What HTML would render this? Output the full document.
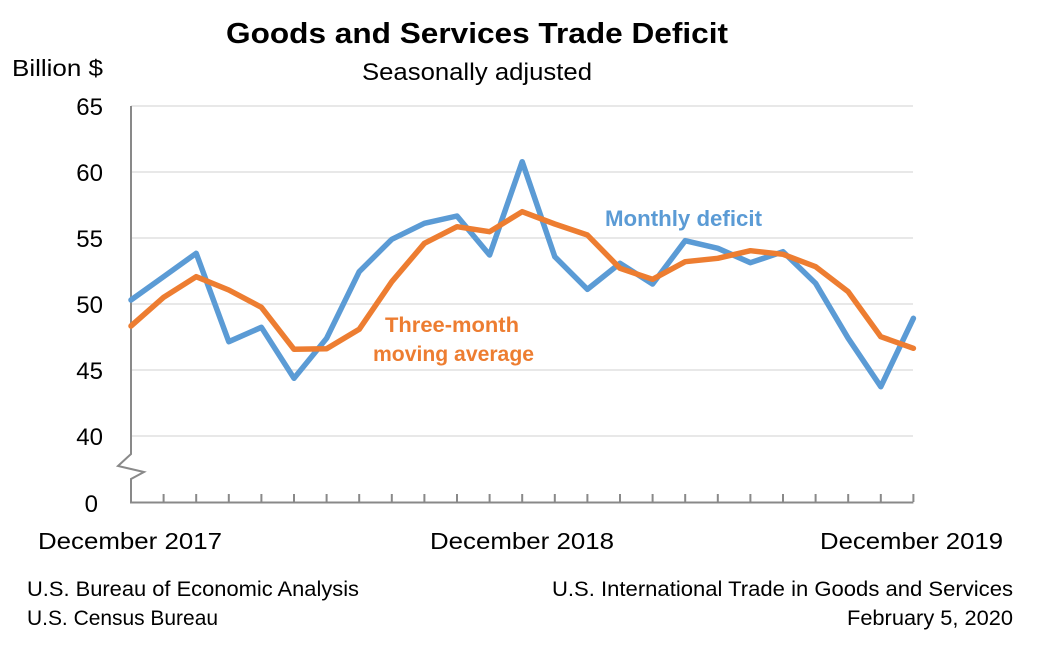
<!DOCTYPE html>
<html>
<head>
<meta charset="utf-8">
<style>
html,body{margin:0;padding:0;background:#fff;}
svg{display:block;}
text{font-family:"Liberation Sans",sans-serif;fill:#000;}
</style>
</head>
<body>
<svg width="1048" height="649" viewBox="0 0 1048 649" xmlns="http://www.w3.org/2000/svg">
<rect width="1048" height="649" fill="#fff"/>
<!-- gridlines -->
<g stroke="#d9d9d9" stroke-width="1.2">
<line x1="131" y1="106" x2="913" y2="106"/>
<line x1="131" y1="172" x2="913" y2="172"/>
<line x1="131" y1="238" x2="913" y2="238"/>
<line x1="131" y1="304" x2="913" y2="304"/>
<line x1="131" y1="370" x2="913" y2="370"/>
<line x1="131" y1="436" x2="913" y2="436"/>
</g>
<!-- axes -->
<polyline points="131,106 131,454 118,466 144,472 131,479 131,502.5 913.4,502.5" fill="none" stroke="#898989" stroke-width="2"/>
<g stroke="#898989" stroke-width="2">
<line x1="163.6" y1="494" x2="163.6" y2="502"/>
<line x1="196.2" y1="494" x2="196.2" y2="502"/>
<line x1="228.8" y1="494" x2="228.8" y2="502"/>
<line x1="261.4" y1="494" x2="261.4" y2="502"/>
<line x1="294" y1="494" x2="294" y2="502"/>
<line x1="326.6" y1="494" x2="326.6" y2="502"/>
<line x1="359.2" y1="494" x2="359.2" y2="502"/>
<line x1="391.8" y1="494" x2="391.8" y2="502"/>
<line x1="424.4" y1="494" x2="424.4" y2="502"/>
<line x1="457" y1="494" x2="457" y2="502"/>
<line x1="489.6" y1="494" x2="489.6" y2="502"/>
<line x1="522.2" y1="494" x2="522.2" y2="502"/>
<line x1="554.8" y1="494" x2="554.8" y2="502"/>
<line x1="587.4" y1="494" x2="587.4" y2="502"/>
<line x1="620" y1="494" x2="620" y2="502"/>
<line x1="652.6" y1="494" x2="652.6" y2="502"/>
<line x1="685.2" y1="494" x2="685.2" y2="502"/>
<line x1="717.8" y1="494" x2="717.8" y2="502"/>
<line x1="750.4" y1="494" x2="750.4" y2="502"/>
<line x1="783" y1="494" x2="783" y2="502"/>
<line x1="815.6" y1="494" x2="815.6" y2="502"/>
<line x1="848.2" y1="494" x2="848.2" y2="502"/>
<line x1="880.8" y1="494" x2="880.8" y2="502"/>
<line x1="913.4" y1="494" x2="913.4" y2="502"/>
</g>
<!-- monthly series -->
<polyline fill="none" stroke="#5b9bd5" stroke-width="5.5" stroke-linejoin="round" stroke-linecap="round"
points="131,300 163.6,276.7 196.2,253.3 228.8,341.7 261.4,327.3 294,378.3 326.6,338.3 359.2,271.7 391.8,239.3 424.4,223.3 457,216 489.6,255 522.2,161.7 554.8,256.7 587.4,289.3 620,263.3 652.6,284 685.2,240.7 717.8,248.3 750.4,262.7 783,251.7 815.6,283.3 848.2,338.3 880.8,386.7 913.4,318.3"/>
<!-- 3-month average -->
<polyline fill="none" stroke="#ed7d31" stroke-width="5.5" stroke-linejoin="round" stroke-linecap="round"
points="131,326 163.6,297.3 196.2,276.7 228.8,290 261.4,307.3 294,349.3 326.6,348.7 359.2,329.3 391.8,281.7 424.4,243.3 457,226.7 489.6,231.7 522.2,211.7 554.8,224 587.4,235 620,268.3 652.6,279.3 685.2,261.7 717.8,258.3 750.4,250.7 783,254.3 815.6,266.7 848.2,291.7 880.8,336.7 913.4,348.3"/>
<!-- titles -->
<text x="226" y="43" font-size="29" font-weight="bold" textLength="502" lengthAdjust="spacingAndGlyphs">Goods and Services Trade Deficit</text>
<text x="362" y="80" font-size="24" textLength="230" lengthAdjust="spacingAndGlyphs">Seasonally adjusted</text>
<text x="12" y="76" font-size="23" textLength="91" lengthAdjust="spacingAndGlyphs">Billion $</text>
<!-- y labels -->
<g font-size="24" text-anchor="end">
<text x="103" y="115">65</text>
<text x="103" y="181">60</text>
<text x="103" y="247">55</text>
<text x="103" y="313">50</text>
<text x="103" y="379">45</text>
<text x="103" y="445">40</text>
<text x="98" y="512">0</text>
</g>
<!-- x labels -->
<text x="38" y="549" font-size="23" textLength="184" lengthAdjust="spacingAndGlyphs">December 2017</text>
<text x="430" y="549" font-size="23" textLength="184" lengthAdjust="spacingAndGlyphs">December 2018</text>
<text x="820" y="549" font-size="23" textLength="183" lengthAdjust="spacingAndGlyphs">December 2019</text>
<!-- series labels -->
<text x="605" y="226" font-size="22" font-weight="bold" style="fill:#5b9bd5" textLength="157" lengthAdjust="spacingAndGlyphs">Monthly deficit</text>
<text x="385" y="332" font-size="21" font-weight="bold" style="fill:#ed7d31" textLength="134" lengthAdjust="spacingAndGlyphs">Three-month</text>
<text x="373" y="361" font-size="21" font-weight="bold" style="fill:#ed7d31" textLength="161" lengthAdjust="spacingAndGlyphs">moving average</text>
<!-- footers -->
<text x="27" y="596" font-size="21" textLength="332" lengthAdjust="spacingAndGlyphs">U.S. Bureau of Economic Analysis</text>
<text x="27" y="625" font-size="21" textLength="191" lengthAdjust="spacingAndGlyphs">U.S. Census Bureau</text>
<text x="552" y="596" font-size="21" textLength="461" lengthAdjust="spacingAndGlyphs">U.S. International Trade in Goods and Services</text>
<text x="847" y="625" font-size="21" textLength="166" lengthAdjust="spacingAndGlyphs">February 5, 2020</text>
</svg>
</body>
</html>
